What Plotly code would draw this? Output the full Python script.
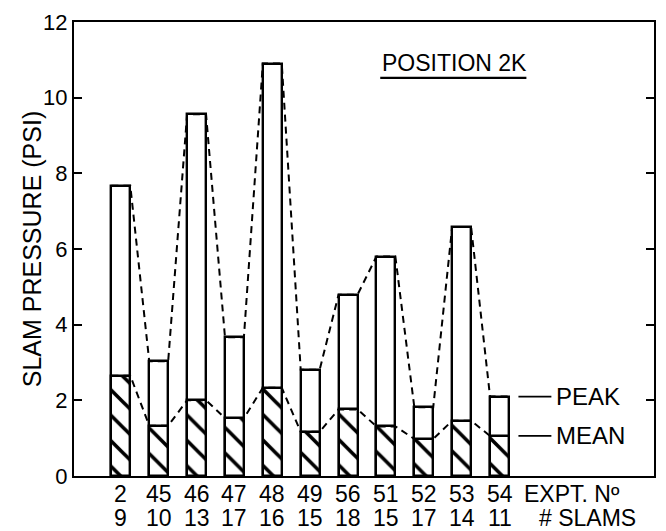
import plotly.graph_objects as go

expt = ["2", "45", "46", "47", "48", "49", "56", "51", "52", "53", "54"]
slams = ["9", "10", "13", "17", "16", "15", "18", "15", "17", "14", "11"]
peaks = [7.67, 3.03, 9.56, 3.67, 10.9, 2.81, 4.79, 5.8, 1.82, 6.58, 2.1]
means = [2.65, 1.33, 2.0, 1.53, 2.33, 1.17, 1.76, 1.31, 0.98, 1.46, 1.06]
y_ticks = [0, 2, 4, 6, 8, 10, 12]

idx = list(range(len(expt)))
BW = 0.5
FONT = "Liberation Sans"

fig = go.Figure()
fig.add_trace(go.Bar(x=idx, y=peaks, width=BW,
                     marker=dict(color="white", line=dict(color="black", width=2.4)),
                     showlegend=False, hoverinfo="skip"))
fig.add_trace(go.Bar(x=idx, y=means, width=BW,
                     marker=dict(color="white", line=dict(color="black", width=2.4),
                                 pattern=dict(shape="\\", fgcolor="black", bgcolor="white",
                                              fgopacity=1, size=18, solidity=0.2)),
                     showlegend=False, hoverinfo="skip"))

def dashed(vals):
    xs, ys = [], []
    for i, v in zip(idx, vals):
        xs += [i - BW / 2, i + BW / 2]
        ys += [v, v]
    return xs, ys

for vals in (peaks, means):
    xs, ys = dashed(vals)
    fig.add_trace(go.Scatter(x=xs, y=ys, mode="lines",
                             line=dict(color="black", width=2, dash="7px,5px"),
                             showlegend=False, hoverinfo="skip"))

LBL = dict(family=FONT, size=23, color="black")
ann = []
for i in idx:
    ann.append(dict(x=i, y=-0.04, xref="x", yref="paper", text=expt[i], showarrow=False,
                    font=LBL, yanchor="middle"))
    ann.append(dict(x=i, y=-0.092, xref="x", yref="paper", text=slams[i], showarrow=False,
                    font=LBL, yanchor="middle"))
ann.append(dict(x=10.6, y=-0.04, xref="x", yref="paper", text="EXPT. Nº", showarrow=False,
                xanchor="left", yanchor="middle", font=LBL))
ann.append(dict(x=11.0, y=-0.092, xref="x", yref="paper", text="# SLAMS", showarrow=False,
                xanchor="left", yanchor="middle", font=LBL))
ann.append(dict(x=11.45, y=peaks[-1], xref="x", yref="y", text="PEAK", showarrow=False,
                xanchor="left", yanchor="middle", font=dict(family=FONT, size=24, color="black")))
ann.append(dict(x=11.45, y=means[-1], xref="x", yref="y", text="MEAN", showarrow=False,
                xanchor="left", yanchor="middle", font=dict(family=FONT, size=24, color="black")))
ann.append(dict(x=0.656, y=0.91, xref="paper", yref="paper", text="POSITION 2K", showarrow=False,
                xanchor="center", yanchor="middle", font=dict(family=FONT, size=23, color="black")))
ann.append(dict(x=-0.072, y=0.5, xref="paper", yref="paper", text="SLAM PRESSURE (PSI)",
                showarrow=False, textangle=-90, xanchor="center", yanchor="middle",
                font=dict(family=FONT, size=25, color="black")))

shapes = [
    dict(type="line", xref="x", yref="y", x0=10.5, x1=11.37, y0=peaks[-1], y1=peaks[-1],
         line=dict(color="black", width=1.8)),
    dict(type="line", xref="x", yref="y", x0=10.5, x1=11.37, y0=means[-1], y1=means[-1],
         line=dict(color="black", width=1.8)),
    dict(type="line", xref="paper", yref="paper", x0=0.528, x1=0.78, y0=0.877, y1=0.877,
         line=dict(color="black", width=2.2)),
]

fig.update_layout(
    width=666, height=531,
    margin=dict(l=74, r=10, t=22, b=55),
    paper_bgcolor="white", plot_bgcolor="white",
    barmode="overlay", bargap=0,
    annotations=ann, shapes=shapes,
    font=dict(family=FONT, color="black"),
)
fig.update_xaxes(range=[-1.237, 14.08], showgrid=False, zeroline=False,
                 showline=True, linecolor="black", linewidth=2, mirror=True,
                 showticklabels=False, ticks="")
fig.update_yaxes(range=[0, 12], tickvals=y_ticks, ticktext=[str(v) for v in y_ticks],
                 showgrid=False, zeroline=False,
                 showline=True, linecolor="black", linewidth=2, mirror="ticks",
                 ticks="inside", ticklen=8, tickwidth=1.8, tickcolor="black",
                 tickfont=dict(family=FONT, size=22, color="black"))

fig.write_html("out.html", config={"displayModeBar": False},
               post_script="document.body.style.margin='0';document.body.style.overflow='hidden';")
